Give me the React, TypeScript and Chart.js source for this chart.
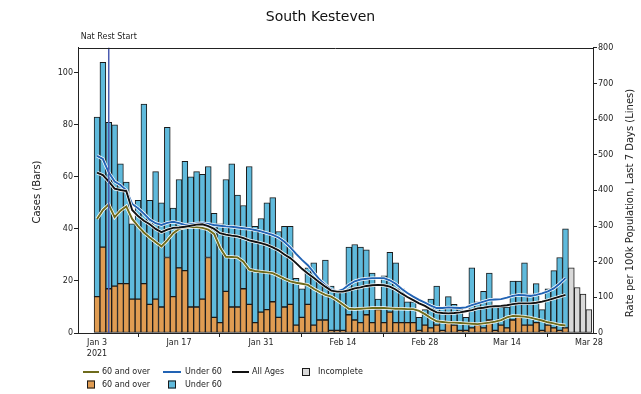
import React, { useEffect, useRef } from 'react';
import { Chart, registerables } from 'chart.js';

Chart.register(...registerables);

const FONT = "'DejaVu Sans', 'Liberation Sans', sans-serif";

// Day index 0 = 3 Jan 2021
const tickDays = [0, 14, 28, 42, 56, 70, 84];
const tickLabels: (string | string[])[] = [['Jan 3', '2021'], 'Jan 17', 'Jan 31', 'Feb 14', 'Feb 28', 'Mar 14', 'Mar 28'];
const leftTicks = [0, 20, 40, 60, 80, 100];
const rightTicks = [0, 100, 200, 300, 400, 500, 600, 700, 800];

const chartTitle = 'South Kesteven';
const leftAxisTitle = 'Cases (Bars)';
const rightAxisTitle = 'Rate per 100k Population, Last 7 Days (Lines)';
const nationalLabel = 'Nat Rest Start';
const nationalDay = 2;

// Daily cases, 3 Jan .. 24 Mar
const totalCases = [
  83, 104, 81, 80, 65, 58, 42, 51, 88, 51,
  62, 50, 79, 48, 59, 66, 60, 62, 61, 64,
  46, 42, 59, 65, 53, 49, 64, 41, 44, 50,
  52, 39, 41, 41, 21, 17, 25, 27, 20, 28,
  18, 16, 16, 33, 34, 33, 32, 23, 13, 22,
  31, 27, 17, 12, 12, 6, 9, 13, 18, 10,
  14, 11, 9, 6, 25, 12, 16, 23, 10, 10,
  10, 20, 20, 27, 15, 19, 9, 17, 24, 29,
  40,
];
const over60Cases = [
  14, 33, 17, 18, 19, 19, 13, 13, 19, 11,
  13, 10, 29, 14, 25, 24, 10, 10, 13, 29,
  6, 4, 16, 10, 10, 17, 11, 4, 8, 9,
  12, 6, 10, 11, 3, 6, 11, 3, 5, 5,
  1, 1, 1, 7, 5, 4, 7, 4, 9, 4,
  8, 4, 4, 4, 4, 1, 3, 2, 3, 1,
  4, 3, 1, 1, 2, 3, 2, 5, 1, 3,
  2, 5, 6, 3, 3, 4, 1, 3, 2, 1,
  2,
];
const under60Cases = totalCases.map((t, i) => t - over60Cases[i]);

// Incomplete days, 25 .. 28 Mar
const incompleteStartDay = 81;
const incompleteCases = [25, 17.5, 15, 9];

// 7-day rates per 100k
const rateAll = [
  450, 443, 425, 405, 401, 398, 345, 328, 315, 305,
  292, 283, 290, 295, 296, 298, 301, 304, 305, 300,
  292, 280, 276, 273, 271, 266, 260, 256, 252, 247,
  240, 232, 220, 210, 196, 180, 167, 155, 142, 130,
  119, 116, 116, 120, 125, 128, 132, 134, 135, 134,
  130, 122, 111, 101, 92, 83, 76, 66, 58, 56,
  55, 56, 58, 61, 64, 69, 71, 74, 75, 76,
  78, 81, 83, 83, 83, 85, 88, 92, 97, 102,
  107,
];
const rateUnder60 = [
  497, 488, 450, 425, 415, 400, 362, 350, 335, 318,
  308, 303, 309, 312, 308, 303, 305, 307, 308, 306,
  303, 301, 299, 298, 296, 294, 292, 289, 285, 280,
  275, 268, 256, 240, 222, 205, 190, 170, 150, 135,
  122, 117, 122, 135, 145, 150, 152, 154, 154, 154,
  148, 138, 124, 112, 102, 93, 85, 77, 70, 70,
  72, 71, 70, 72, 78, 83, 88, 93, 94, 95,
  99, 104, 107, 106, 104, 107, 111, 117, 125, 138,
  154,
];
const rateOver60 = [
  320, 345, 360, 325, 343, 355, 320, 300, 282, 268,
  255, 243, 260, 280, 292, 296, 298, 297, 295, 290,
  278, 240, 214, 213, 212, 200, 178, 174, 172, 170,
  168, 160, 152, 145, 141, 138, 135, 124, 115, 107,
  102, 92, 80, 68, 67, 68, 69, 70, 70, 70,
  69, 68, 68, 67, 67, 62, 53, 42, 33, 31,
  29, 29, 28, 27, 26, 25, 27, 29, 32, 36,
  44, 48, 47, 46, 43, 39, 35, 30, 27, 23,
  21,
];

const ORANGE = '#e09c52';
const SKY = '#5fbadc';
const GREY = '#d9d9d9';
const EDGE = '#1a1a1a';
const OLIVE = '#6e6b1c';
const BLUE = '#2263b4';
const BLACK = '#111111';
const AXIS = '#222222';

const xy = (arr: number[], start = 0) => arr.map((v, i) => ({ x: i + start, y: v }));

const lineDs = (label: string, data: number[], color: string, width: number, order: number) => ({
  type: 'line' as const,
  label,
  data: xy(data),
  yAxisID: 'y1',
  borderColor: color,
  borderWidth: width,
  pointRadius: 0,
  tension: 0,
  fill: false,
  order,
});

const barDs = (label: string, data: any[], color: string, order: number) => ({
  type: 'bar' as const,
  label,
  data,
  yAxisID: 'y',
  backgroundColor: color,
  borderColor: EDGE,
  borderWidth: 1,
  borderSkipped: false,
  barPercentage: 1,
  categoryPercentage: 1,
  stack: 'cases',
  order,
});

const legendCols = [
  { hx0: 83, hx1: 99, tx: 102 },
  { hx0: 163, hx1: 181, tx: 185 },
  { hx0: 232, hx1: 249, tx: 252 },
  { hx0: 298, hx1: 314, tx: 318 },
];

const decorPlugin = {
  id: 'decor',
  afterDatasetsDraw(chart: any) {
    const { ctx, chartArea: a, scales } = chart;
    const x = scales.x.getPixelForValue(nationalDay);
    ctx.save();
    ctx.strokeStyle = '#4b5bb0';
    ctx.lineWidth = 1.5;
    ctx.beginPath();
    ctx.moveTo(x, a.top);
    ctx.lineTo(x, a.bottom);
    ctx.stroke();
    ctx.restore();
  },
  afterDraw(chart: any) {
    const { ctx, chartArea: a, scales } = chart;
    ctx.save();
    // top spine
    ctx.strokeStyle = AXIS;
    ctx.lineWidth = 1;
    ctx.beginPath();
    ctx.moveTo(a.left, Math.round(a.top) + 0.5);
    ctx.lineTo(a.right, Math.round(a.top) + 0.5);
    ctx.stroke();

    ctx.fillStyle = AXIS;
    ctx.textBaseline = 'middle';
    // national restriction label
    ctx.font = `8px ${FONT}`;
    ctx.textAlign = 'center';
    ctx.fillText(nationalLabel, scales.x.getPixelForValue(nationalDay), 37);

    // axis titles
    ctx.font = `10px ${FONT}`;
    ctx.save();
    ctx.translate(37, 192);
    ctx.rotate(-Math.PI / 2);
    ctx.fillText(leftAxisTitle, 0, 0);
    ctx.restore();
    ctx.save();
    ctx.translate(630, 203);
    ctx.rotate(-Math.PI / 2);
    ctx.fillText(rightAxisTitle, 0, 0);
    ctx.restore();

    // legend
    ctx.font = `8px ${FONT}`;
    ctx.textAlign = 'left';
    const r1 = 372;
    const r2 = 384.5;
    const lineItem = (c: any, y: number, color: string, label: string) => {
      ctx.strokeStyle = color;
      ctx.lineWidth = 2;
      ctx.beginPath();
      ctx.moveTo(c.hx0, y);
      ctx.lineTo(c.hx1, y);
      ctx.stroke();
      ctx.fillStyle = AXIS;
      ctx.fillText(label, c.tx, y);
    };
    const boxItem = (c: any, y: number, color: string, label: string) => {
      const cx = (c.hx0 + c.hx1) / 2;
      ctx.fillStyle = color;
      ctx.fillRect(cx - 4, y - 4, 8, 8);
      ctx.strokeStyle = EDGE;
      ctx.lineWidth = 1;
      ctx.strokeRect(cx - 3.5, y - 3.5, 7, 7);
      ctx.fillStyle = AXIS;
      ctx.fillText(label, c.tx, y);
    };
    lineItem(legendCols[0], r1, OLIVE, '60 and over');
    lineItem(legendCols[1], r1, BLUE, 'Under 60');
    lineItem(legendCols[2], r1, BLACK, 'All Ages');
    boxItem(legendCols[3], r1, GREY, 'Incomplete');
    boxItem(legendCols[0], r2, ORANGE, '60 and over');
    boxItem(legendCols[1], r2, SKY, 'Under 60');
    ctx.restore();
  },
};

const tickFont = { family: FONT, size: 8 };

export default function App() {
  const ref = useRef<HTMLCanvasElement | null>(null);
  useEffect(() => {
    document.body.style.margin = '0';
    const canvas = ref.current;
    if (!canvas) return;
    const chart = new Chart(canvas, {
      type: 'bar',
      data: {
        datasets: [
          lineDs('All Ages', rateAll, BLACK, 1.9, 0),
          lineDs('', rateAll, '#ffffff', 3.4, 1),
          lineDs('Under 60', rateUnder60, BLUE, 1.9, 2),
          lineDs('', rateUnder60, '#ffffff', 3.4, 3),
          lineDs('60 and over', rateOver60, OLIVE, 1.9, 4),
          lineDs('', rateOver60, '#ffffff', 3.4, 5),
          barDs('60 and over', xy(over60Cases), ORANGE, 10),
          barDs('Under 60', xy(under60Cases), SKY, 11),
          barDs('Incomplete', xy(incompleteCases, incompleteStartDay), GREY, 12),
        ] as any,
      },
      options: {
        responsive: false,
        animation: false,
        layout: { padding: 0 },
        plugins: {
          legend: { display: false },
          tooltip: { enabled: false },
          title: {
            display: true,
            text: chartTitle,
            color: '#111',
            font: { family: FONT, size: 14, weight: 'normal' },
            padding: { top: 9, bottom: 22 },
          },
        },
        scales: {
          x: {
            type: 'linear',
            min: -3.25,
            max: 84.7,
            offset: false,
            stacked: true,
            afterBuildTicks: (s: any) => {
              s.ticks = tickDays.map((v) => ({ value: v }));
            },
            afterFit: (s: any) => {
              s.height = 61;
            },
            ticks: {
              autoSkip: false,
              maxRotation: 0,
              padding: 0,
              color: AXIS,
              font: { ...tickFont, lineHeight: 1.4 },
              callback: (_v: any, i: number) => tickLabels[i],
            },
            grid: { drawOnChartArea: false, drawTicks: true, tickLength: 4, color: AXIS },
            border: { display: true, color: AXIS, width: 1 },
          },
          y: {
            position: 'left',
            min: 0,
            max: 109.6,
            stacked: true,
            afterBuildTicks: (s: any) => {
              s.ticks = leftTicks.map((v) => ({ value: v }));
            },
            afterFit: (s: any) => {
              s.width = 78;
            },
            ticks: { padding: 1, color: AXIS, font: tickFont },
            grid: { drawOnChartArea: false, drawTicks: true, tickLength: 4, color: AXIS },
            border: { display: true, color: AXIS, width: 1 },
          },
          y1: {
            position: 'right',
            min: 0,
            max: 800,
            afterBuildTicks: (s: any) => {
              s.ticks = rightTicks.map((v) => ({ value: v }));
            },
            afterFit: (s: any) => {
              s.width = 48;
            },
            ticks: { padding: 1, color: AXIS, font: tickFont },
            grid: { drawOnChartArea: false, drawTicks: true, tickLength: 4, color: AXIS },
            border: { display: true, color: AXIS, width: 1 },
          },
        },
      } as any,
      plugins: [decorPlugin],
    });
    return () => chart.destroy();
  }, []);
  return (
    <div style={{ width: 641, height: 394, overflow: 'hidden', background: '#fff' }}>
      <canvas ref={ref} width={641} height={394} style={{ display: 'block' }} />
    </div>
  );
}
